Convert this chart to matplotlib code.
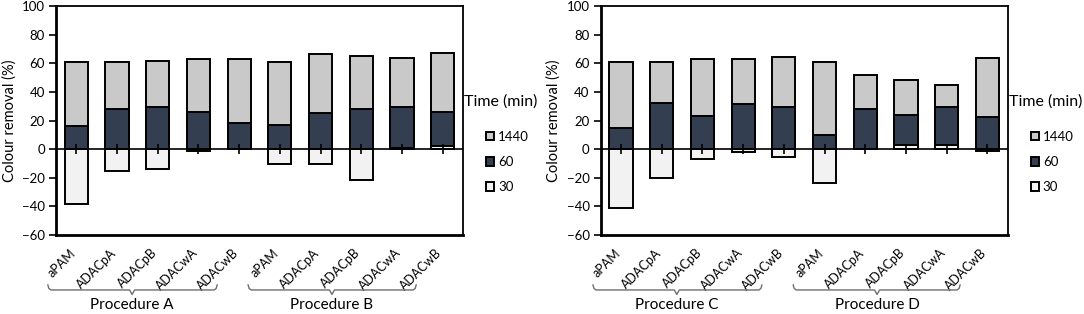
import matplotlib
matplotlib.use("Agg")
import matplotlib.pyplot as plt
import numpy as np
from matplotlib.lines import Line2D
from matplotlib.transforms import blended_transform_factory

plt.rcParams['font.family'] = ['Lato', 'DejaVu Sans']

categories = ["aPAM", "ADACpA", "ADACpB", "ADACwA", "ADACwB",
              "aPAM", "ADACpA", "ADACpB", "ADACwA", "ADACwB"]

# Left panel (Procedures A & B)
left_1440 = [61.1, 60.6, 61.5, 62.7, 62.7, 60.6, 66.2, 64.8, 63.9, 66.9]
left_60 = [16.3, 28.0, 29.1, 26.1, 18.2, 17.2, 25.0, 28.0, 29.6, 26.0]
left_30 = [-38.5, -15.4, -14.0, -1.0, 0.0, -10.7, -10.7, -21.7, 1.0, 2.3]

# Right panel (Procedures C & D)
right_1440 = [61.1, 61.1, 63.2, 62.7, 64.3, 61.1, 51.5, 48.0, 44.8, 63.8]
right_60 = [14.9, 32.2, 23.3, 31.2, 29.1, 10.0, 28.0, 23.8, 29.1, 22.2]
right_30 = [-40.8, -20.3, -6.8, -1.9, -5.4, -23.5, 0.0, 3.0, 3.0, -1.4]

groups_left = ["Procedure A", "Procedure B"]
groups_right = ["Procedure C", "Procedure D"]
series_labels = ["1440", "60", "30"]
colors = ["#C9C9C9", "#333F50", "#F2F2F2"]
yticks = [-60, -40, -20, 0, 20, 40, 60, 80, 100]

W, H = 1084, 314
fig = plt.figure(figsize=(W / 100, H / 100), dpi=100)
axL = fig.add_axes([56 / W, 1 - 235 / H, 407 / W, 229 / H])
axR = fig.add_axes([600.7 / W, 1 - 235 / H, 407 / W, 229 / H])


def brace(ax, x0, x1, xm, y):
    # x in data coords, y in axes coords; offsets in pixels
    tr = blended_transform_factory(ax.transData, ax.transAxes)
    bb = ax.get_window_extent()
    xlim = ax.get_xlim()
    pxx = (xlim[1] - xlim[0]) / bb.width
    pxy = 1.0 / bb.height
    xs = [x0, x0 + 1.0 * pxx, x0 + 3 * pxx, xm - 2.5 * pxx, xm, xm + 2.5 * pxx,
          x1 - 3 * pxx, x1 - 1.0 * pxx, x1]
    ys = [y + 5 * pxy, y + 1.5 * pxy, y, y, y - 4.5 * pxy, y, y, y + 1.5 * pxy, y + 5 * pxy]
    ln = Line2D(xs, ys, transform=tr, color="#6E6E6E", lw=1.0, clip_on=False)
    ax.add_line(ln)


def draw(ax, v1440, v60, v30, groups, brace_spec):
    x = np.arange(len(categories))
    w = 0.57
    b1 = ax.bar(x, v1440, w, color=colors[0], edgecolor="black", lw=1.4, zorder=2, label=series_labels[0])
    b2 = ax.bar(x, v60, w, color=colors[1], edgecolor="black", lw=1.4, zorder=3, label=series_labels[1])
    b3 = ax.bar(x, v30, w, color=colors[2], edgecolor="black", lw=1.4, zorder=4, label=series_labels[2])
    ax.set_xlim(-0.5, len(categories) - 0.5)
    ax.set_ylim(-60, 100)
    ax.set_yticks(yticks)
    ax.tick_params(axis="y", direction="out", length=5, width=1.2, labelsize=9.5, pad=3)
    ax.axhline(0, color="black", lw=1.2, zorder=5)
    ax.plot(x, np.zeros(len(x)), ls="none", marker="|", ms=6.5, mew=1.2, color="black", zorder=6)
    ax.set_xticks(x)
    ax.set_xticklabels(categories, rotation=45, ha="right", va="baseline", fontsize=9)
    for lbl in ax.get_xticklabels():
        lbl.set_rotation_mode("anchor")
    ax.tick_params(axis="x", length=0, pad=13.5)
    for s in ["left", "bottom"]:
        ax.spines[s].set_linewidth(2.0)
    for s in ["top", "right"]:
        ax.spines[s].set_linewidth(1.3)
    ax.set_ylabel("Colour removal (%)", fontsize=10.5, labelpad=4)
    tr = blended_transform_factory(ax.transData, ax.transAxes)
    for (x0, x1, xm), g in zip(brace_spec, groups):
        brace(ax, x0, x1, xm, -0.240)
        ax.text(xm, -0.305, g, transform=tr, ha="center", va="center", fontsize=11)
    ax.text(1.002, 0.581, "Time (min)", transform=ax.transAxes, ha="left", va="center", fontsize=11.5)
    ax.legend(handles=[b1, b2, b3], loc="upper left", bbox_to_anchor=(1.057, 0.455),
              frameon=False, borderpad=0, borderaxespad=0, fontsize=9.5,
              handlelength=0.6, handleheight=0.6, handletextpad=0.3, labelspacing=1.0)


draw(axL, left_1440, left_60, left_30, groups_left,
     [(-0.70, 3.46, 1.37), (4.22, 8.35, 6.28)])
draw(axR, right_1440, right_60, right_30, groups_right,
     [(-0.69, 3.46, 1.37), (4.23, 8.33, 6.29)])

fig.savefig("out.png", dpi=100)
